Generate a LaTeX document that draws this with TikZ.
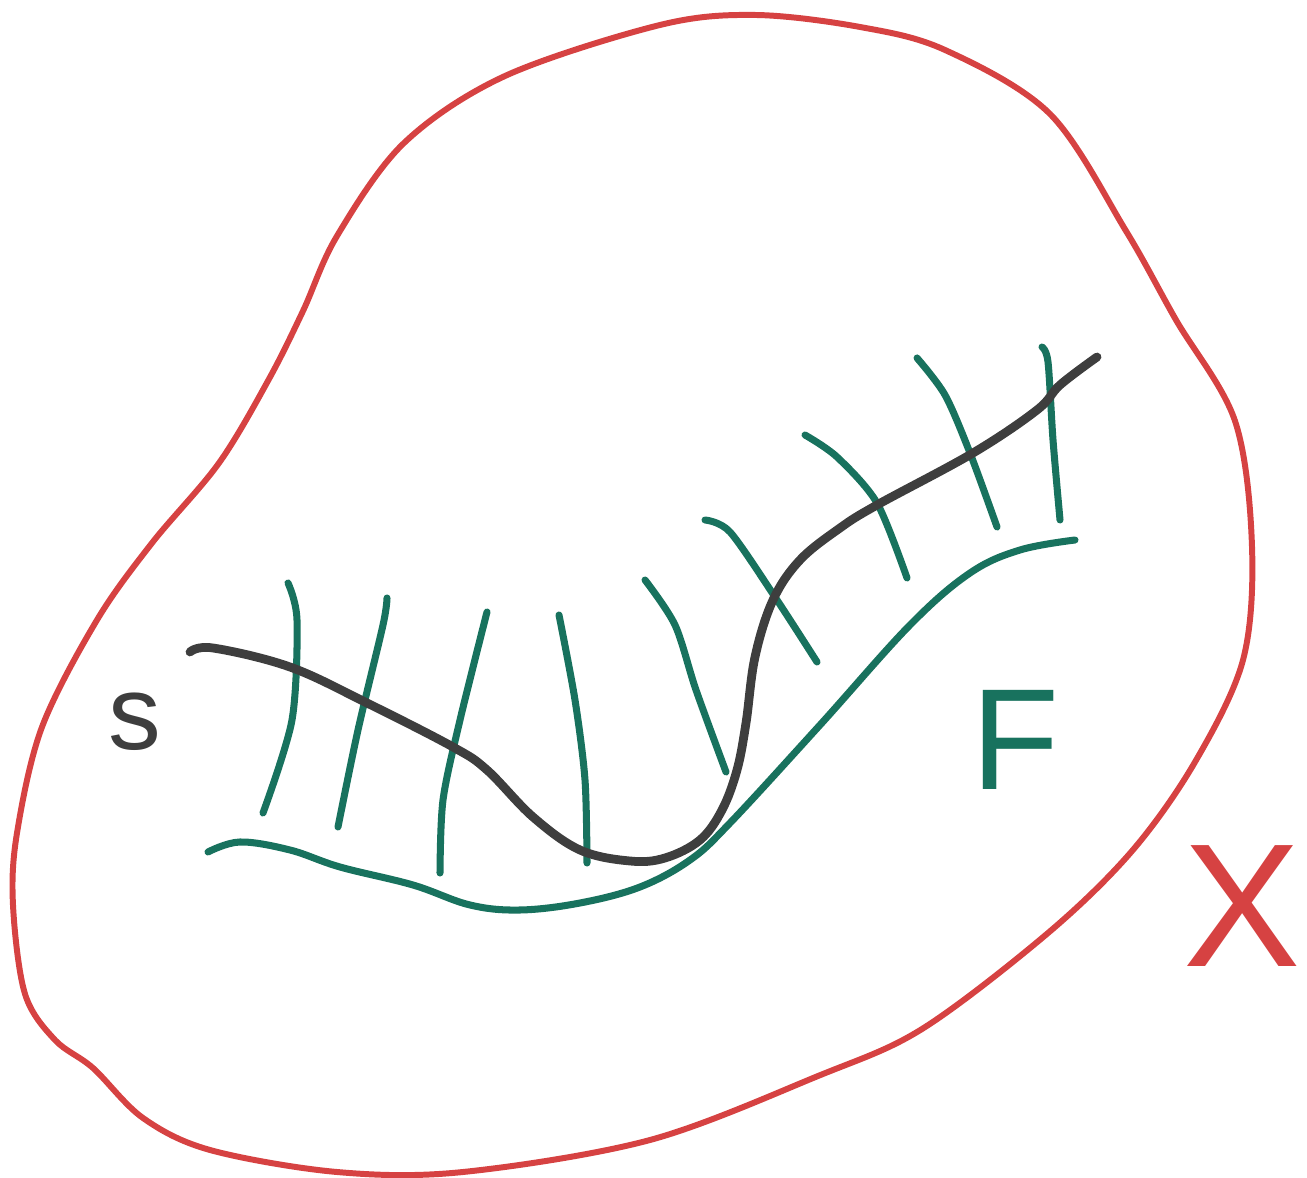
\documentclass[tikz,border=0pt]{standalone}
\usepackage{fontspec}
\setsansfont{Liberation Sans}
\usepackage{tikz}
\definecolor{setred}{RGB}{214,66,66}
\definecolor{leafgreen}{RGB}{24,114,94}
\definecolor{pathgray}{RGB}{62,62,62}

\begin{document}
\begin{tikzpicture}[
        x=0.1mm, y=-0.1mm,
        line cap=round, line join=round,
        border/.style={draw=setred, line width=1.7pt},
        leaf/.style={draw=leafgreen, line width=2pt},
        curve/.style={draw=pathgray, line width=2.5pt},
        lbl/.style={inner sep=0pt, font=\sffamily\fontsize{#1}{#1}\selectfont}
    ]
        \useasboundingbox (0,0) rectangle (1307,1178);
        % the set X
        \draw[border] plot[smooth cycle, tension=0.55] coordinates {
            (755,15) (860,27) (945,50) (1050,114) (1126,231) (1176,320)
            (1235,421) (1252,547) (1243,660) (1195,762) (1132,851) (1048,933)
            (922,1029) (818,1076) (650,1140) (463,1172) (337,1172) (210,1150)
            (143,1118) (93,1068) (55,1040) (25,994) (13,905) (17,833)
            (42,727) (97,620) (152,543) (219,463) (269,379) (303,311)
            (337,236) (404,143) (505,76) (660,25)};
        % the leaf F
        \draw[leaf] plot[smooth, tension=0.6] coordinates {
            (208,852) (240,842) (290,850) (340,867) (413,885) (470,905)
            (520,910) (580,903) (640,887) (690,860) (730,823) (820,725)
            (910,625) (970,573) (1020,550) (1075,540)};
        % nearby leaves
        \draw[leaf] plot[smooth] coordinates {(288,583) (297,620) (292,720) (263,813)};
        \draw[leaf] plot[smooth] coordinates {(387,598) (383,625) (358,730) (338,827)};
        \draw[leaf] plot[smooth] coordinates {(487,612) (460,720) (443,800) (440,873)};
        \draw[leaf] plot[smooth] coordinates {(559,615) (575,700) (585,780) (587,863)};
        \draw[leaf] plot[smooth] coordinates {(645,580) (675,625) (696,690) (726,772)};
        \draw[leaf] plot[smooth] coordinates {(705,520) (730,532) (775,597) (817,662)};
        \draw[leaf] plot[smooth] coordinates {(805,435) (837,457) (877,503) (907,578)};
        \draw[leaf] plot[smooth] coordinates {(917,358) (945,395) (970,453) (997,527)};
        \draw[leaf] plot[smooth] coordinates {(1042,347) (1048,362) (1053,440) (1060,520)};
        % the curve s
        \draw[curve] plot[smooth, tension=0.6] coordinates {
            (190,652) (213,648) (290,667) (367,703) (453,747) (487,770)
            (533,817) (580,850) (630,861) (665,858) (700,840) (722,810)
            (737,770) (746,723) (755,657) (773,600) (800,560) (840,528)
            (877,505) (973,453) (1037,410) (1060,385) (1097,357)};
        % labels
        \node[lbl=30pt, text=pathgray] (s) at (135,722) {s};
        \node[lbl=41pt, text=leafgreen] (F) at (1015,740) {F};
        \node[lbl=50pt, text=setred] (X) at (1242,906) {X};
    \end{tikzpicture}
\end{document}
